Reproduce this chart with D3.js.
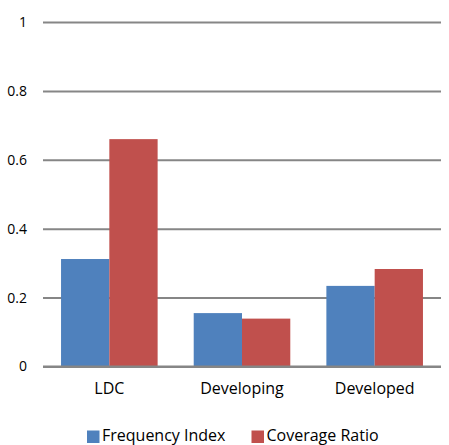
<!DOCTYPE html>
<html>
<head>
<meta charset="utf-8">
<script src="https://cdn.jsdelivr.net/npm/d3@7"></script>
<style>
  html, body { margin: 0; padding: 0; background: #fff; }
  svg text { font-family: "Open Sans", "Noto Sans", sans-serif; fill: #000; }
</style>
</head>
<body>
<svg id="chart" width="449" height="445"></svg>
<script>
// Chart data
const categories = ["LDC", "Developing", "Developed"];
const seriesNames = ["Frequency Index", "Coverage Ratio"];
const frequencyIndex = [0.312, 0.155, 0.234];
const coverageRatio = [0.66, 0.139, 0.283];
const yTicks = [0, 0.2, 0.4, 0.6, 0.8, 1];
const yTickLabels = ["0", "0.2", "0.4", "0.6", "0.8", "1"];
const colors = ["#4F81BD", "#C0504D"];

const svg = d3.select("#chart");
const margin = { left: 43, right: 8, top: 22, bottom: 78 };
const W = 449, H = 445;
const plotRight = W - margin.right;
const plotBottom = H - margin.bottom - 0.5;

const x = d3.scaleBand().domain(categories).range([margin.left, plotRight]).paddingInner(0.272).paddingOuter(0.136);
const xs = d3.scaleBand().domain(seriesNames).range([0, x.bandwidth()]);
const y = d3.scaleLinear().domain([0, 1]).range([plotBottom, margin.top]);

// Gridlines and value labels
const yAxis = d3.axisLeft(y).tickValues(yTicks)
  .tickFormat((d, i) => yTickLabels[i])
  .tickSize(-(plotRight - margin.left)).tickPadding(16);
const gy = svg.append("g").attr("transform", `translate(${margin.left},0)`).call(yAxis);
gy.select(".domain").remove();
gy.selectAll(".tick line").attr("stroke", "#868686").attr("stroke-width", 2);
gy.selectAll(".tick text").attr("font-size", 14).attr("font-family", "Open Sans, sans-serif");

// Bars
const rows = categories.map((c, i) => ({ cat: c, vals: [frequencyIndex[i], coverageRatio[i]] }));
const groups = svg.append("g").selectAll("g").data(rows).join("g")
  .attr("transform", d => `translate(${x(d.cat)},0)`);
groups.selectAll("rect").data(d => d.vals.map((v, j) => ({ v, s: seriesNames[j], j })))
  .join("rect")
  .attr("x", d => xs(d.s))
  .attr("width", xs.bandwidth())
  .attr("y", d => y(d.v))
  .attr("height", d => y(0) - y(d.v))
  .attr("fill", d => colors[d.j]);

// Baseline drawn over the bars
svg.append("line")
  .attr("x1", margin.left).attr("x2", plotRight)
  .attr("y1", y(0)).attr("y2", y(0))
  .attr("stroke", "#868686").attr("stroke-width", 2);

// Category labels
const xAxis = d3.axisBottom(x).tickSize(0).tickPadding(16);
const gx = svg.append("g").attr("transform", `translate(0,${y(0)})`).call(xAxis);
gx.select(".domain").remove();
gx.selectAll(".tick text").attr("font-size", 16).attr("font-family", "Open Sans, sans-serif");

// Legend
const legendItems = [
  { name: seriesNames[0], color: colors[0], x: 87 },
  { name: seriesNames[1], color: colors[1], x: 251.5 }
];
const lg = svg.append("g");
legendItems.forEach(it => {
  lg.append("rect").attr("x", it.x).attr("y", 430.5).attr("width", 12.5).attr("height", 12.5).attr("fill", it.color);
  lg.append("text").attr("x", it.x + 15).attr("y", 441).attr("font-size", 16).text(it.name);
});
</script>
</body>
</html>
